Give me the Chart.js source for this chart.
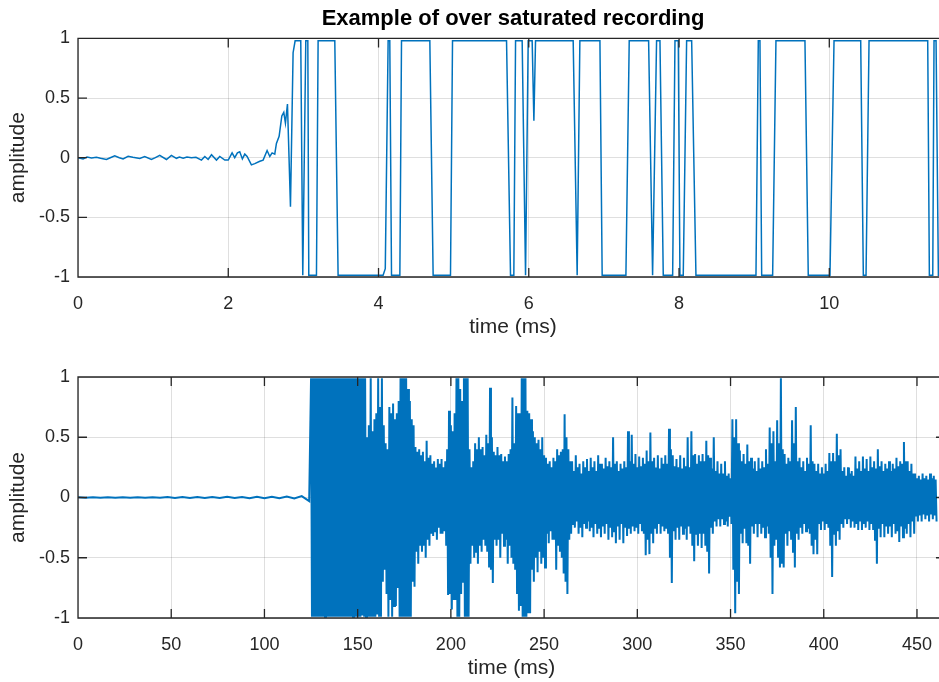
<!DOCTYPE html>
<html lang="en">

<head>
    <meta charset="UTF-8">
    <meta name="viewport" content="width=device-width, initial-scale=1.0">
    <script src="https://cdn.jsdelivr.net/npm/chart.js"></script>
    <title>Over saturated recording</title>
    <style>
        body {
            margin: 0;
            width: 939px;
            height: 682px;
            overflow: hidden;
            background: #fff;
        }

        canvas {
            position: absolute;
            left: 0;
        }

        #grafico1 { top: 0; }
        #grafico2 { top: 340px; }
    </style>
</head>

<body>
    <canvas id="grafico1" width="948" height="340"></canvas>
    <canvas id="grafico2" width="948" height="341"></canvas>
</body>

</html>

<script>
// ---- dados ----

// subplot de cima: zoom nos primeiros ms (tempo em ms, amplitude)
const topTime = [
    0, 0.067, 0.12, 0.18, 0.245, 0.3, 0.378, 0.43, 0.489, 0.55, 0.6, 0.667, 0.73, 0.822, 0.888, 0.977,
    1.03, 1.088, 1.177, 1.243, 1.31, 1.35, 1.4, 1.45, 1.51, 1.57, 1.643, 1.688, 1.732, 1.777, 1.843, 1.887, 1.954,
    2.0, 2.051, 2.086, 2.122, 2.153, 2.188, 2.22, 2.251, 2.308, 2.353, 2.42, 2.464, 2.517, 2.553, 2.584, 2.619,
    2.641, 2.677, 2.713, 2.739, 2.761, 2.788, 2.828, 2.863, 2.89, 2.965, 2.992, 3.032, 3.059, 3.072, 3.174,
    3.196, 3.418, 3.462, 4.061, 4.09, 4.128, 4.15, 4.173, 4.284, 4.306, 4.683, 4.727, 4.958, 4.985, 5.704,
    5.757, 5.801, 5.824, 5.912, 5.957, 5.992, 6.045, 6.068, 6.09, 6.591, 6.644, 6.68, 6.947, 6.977, 7.293,
    7.337, 7.595, 7.648, 7.701, 7.746, 7.79, 7.915, 7.946, 7.99, 8.012, 8.056, 8.101, 8.168, 8.225, 9.024,
    9.055, 9.077, 9.1, 9.246, 9.29, 9.676, 9.72, 10.009, 10.063, 10.418, 10.453, 10.489, 10.529, 11.31,
    11.332, 11.377, 11.394, 11.421, 11.452, 11.58
];
const topAmp = [
    0, -0.01, 0.005, -0.003, 0.003, -0.005, -0.015, 0, 0.015, 0, -0.01, 0.012, 0.003, -0.006, 0.01, -0.015,
    0, 0.02, -0.015, 0.02, -0.005, 0.005, -0.004, 0.006, 0, 0.004, -0.02, 0.01, -0.015, 0.025, -0.02, 0.01, -0.02,
    -0.02, 0.04, 0, 0.04, 0.05, -0.01, 0.03, 0.01, -0.06, -0.05, -0.03, -0.02, 0.06, 0.01, 0.04, 0.03,
    0.12, 0.18, 0.35, 0.38, 0.29, 0.45, -0.41, 0.88, 0.98, 0.98, -0.985, 0.98, 0.98, -0.985, -0.985,
    0.98, 0.98, -0.985, -0.985, -0.93, 0.98, 0.98, -0.985, -0.985, 0.98, 0.98, -0.985, -0.985, 0.98, 0.98,
    -0.985, -0.985, 0.98, 0.98, -0.985, 0.98, 0.98, 0.31, 0.98, 0.98, -0.985, 0.98, 0.98, -0.985, -0.985,
    0.98, 0.98, -0.985, 0.98, 0.98, -0.985, -0.985, 0.98, 0.98, -0.985, -0.985, 0.98, 0.98, -0.985, -0.985,
    0.98, 0.98, -0.985, -0.985, 0.98, 0.98, -0.985, -0.985, 0.98, 0.98, -0.985, -0.985, 0.98, 0.98,
    -0.985, -0.985, 0.98, 0.98, -0.985, -0.985
];

// subplot de baixo: gravacao inteira
// trecho quieto antes do estouro (um valor a cada 4 ms, comecando em 0)
const quietStart = 0;
const quietStep = 4;
const quietAmp = [
    0.003, -0.002, 0.002, -0.003, 0.002, -0.002, 0.003, -0.003, 0.002, -0.002, 0.003, -0.003, 0.004, -0.004,
    0.004, -0.005, 0.004, -0.005, 0.005, -0.004, 0.006, -0.005, 0.005, -0.006, 0.006, -0.006, 0.007, -0.006,
    0.008, -0.008, 0.012, -0.03
];

// trecho saturado / ruidoso a partir de 125 ms: maximo e minimo de cada ms (em centesimos)
const loudStart = 125;
const loudHi = [
    99, 99, 99, 99, 99, 99, 99, 99, 99, 99,
    99, 99, 99, 99, 99, 99, 99, 99, 99, 99,
    99, 99, 99, 99, 99, 99, 99, 99, 99, 99,
    50, 60, 99, 55, 65, 70, 99, 75, 99, 60,
    45, 40, 75, 70, 78, 65, 70, 80, 99, 99,
    99, 99, 90, 80, 65, 60, 42, 38, 40, 35,
    38, 30, 47, 33, 35, 28, 30, 25, 32, 28,
    32, 25, 30, 40, 72, 60, 55, 70, 99, 99,
    90, 80, 99, 99, 99, 40, 25, 30, 45, 40,
    50, 40, 42, 35, 52, 45, 91, 50, 38, 35,
    42, 35, 36, 30, 34, 30, 36, 40, 83, 45,
    76, 70, 70, 99, 99, 99, 72, 70, 65, 55,
    50, 45, 48, 40, 50, 35, 33, 28, 30, 25,
    33, 30, 40, 35, 38, 40, 69, 50, 40, 30,
    30, 22, 35, 25, 28, 20, 30, 25, 32, 22,
    33, 25, 30, 22, 35, 28, 28, 24, 33, 26,
    30, 25, 50, 28, 30, 22, 28, 24, 30, 25,
    55, 30, 52, 28, 36, 25, 34, 26, 33, 28,
    39, 30, 54, 30, 33, 25, 35, 24, 33, 28,
    35, 28, 57, 40, 35, 26, 32, 25, 35, 24,
    33, 26, 50, 25, 55, 35, 36, 28, 35, 30,
    36, 30, 47, 35, 33, 24, 50, 22, 30, 20,
    28, 20, 30, 18, 20, 16, 65, 50, 65, 45,
    39, 30, 36, 28, 44, 30, 33, 24, 30, 22,
    33, 24, 30, 25, 40, 28, 58, 45, 55, 30,
    64, 45, 99, 40, 36, 28, 33, 30, 64, 45,
    75, 30, 33, 25, 30, 22, 33, 28, 60, 30,
    28, 22, 28, 20, 25, 20, 28, 22, 37, 30,
    37, 30, 53, 35, 40, 22, 25, 18, 25, 20,
    22, 18, 34, 24, 30, 22, 34, 24, 32, 22,
    34, 25, 30, 24, 40, 26, 30, 22, 28, 24,
    30, 22, 28, 24, 33, 26, 30, 28, 46, 30,
    30, 22, 28, 20, 20, 16, 18, 15, 20, 16,
    18, 15, 20, 16, 18, 15
];
const loudLo = [
    -99, -99, -99, -99, -99, -99, -99, -99, -99, -99,
    -99, -99, -99, -99, -99, -99, -99, -99, -99, -99,
    -99, -99, -99, -99, -99, -99, -99, -98, -99, -99,
    -99, -99, -99, -99, -99, -97, -99, -99, -70, -60,
    -80, -99, -85, -99, -90, -90, -75, -99, -99, -99,
    -99, -99, -99, -99, -70, -74, -45, -55, -40, -45,
    -40, -50, -35, -40, -30, -32, -28, -35, -25, -30,
    -30, -28, -40, -81, -80, -93, -85, -85, -99, -99,
    -80, -70, -99, -99, -99, -55, -40, -50, -45, -55,
    -40, -45, -35, -40, -45, -58, -60, -71, -35, -40,
    -35, -50, -30, -40, -35, -55, -40, -50, -55, -60,
    -80, -94, -90, -99, -99, -99, -96, -96, -60, -70,
    -50, -62, -45, -55, -50, -58, -30, -38, -28, -35,
    -35, -60, -40, -45, -50, -63, -70, -80, -35, -30,
    -22, -25, -20, -30, -25, -33, -22, -25, -20, -28,
    -25, -33, -22, -30, -26, -33, -24, -30, -22, -35,
    -25, -33, -28, -38, -24, -35, -22, -38, -25, -32,
    -26, -30, -24, -28, -25, -30, -22, -28, -30, -48,
    -35, -47, -30, -38, -25, -30, -22, -30, -24, -28,
    -26, -30, -50, -71, -28, -35, -25, -35, -24, -30,
    -26, -35, -24, -30, -40, -53, -30, -40, -30, -42,
    -30, -40, -45, -63, -25, -30, -20, -24, -18, -24,
    -18, -22, -20, -24, -16, -22, -60, -96, -70, -80,
    -30, -38, -26, -38, -40, -55, -24, -30, -22, -33,
    -22, -30, -25, -33, -24, -30, -50, -80, -40, -35,
    -50, -58, -55, -58, -30, -40, -28, -35, -45, -58,
    -30, -35, -25, -30, -22, -28, -26, -30, -40, -47,
    -35, -47, -22, -27, -20, -27, -22, -25, -40, -66,
    -30, -40, -28, -35, -22, -25, -18, -22, -18, -25,
    -20, -25, -22, -27, -20, -27, -22, -25, -20, -27,
    -22, -27, -35, -55, -26, -33, -22, -33, -24, -30,
    -24, -33, -22, -30, -28, -37, -24, -33, -26, -30,
    -22, -33, -20, -30, -15, -20, -15, -20, -14, -18,
    -15, -20, -14, -18, -15, -20
];

// ticks
const ampTicks = [-1, -0.5, 0, 0.5, 1];
const topTicks = [0, 2, 4, 6, 8, 10];
const botTicks = [0, 50, 100, 150, 200, 250, 300, 350, 400, 450];

const azulMatlab = '#0072BD';
const corEixo = '#262626';
Chart.defaults.font.family = '"Liberation Sans", Arial, Helvetica, sans-serif';
Chart.defaults.color = corEixo;

// caixa do eixo com os tracinhos para dentro (estilo matlab)
const caixaMatlab = {
    id: 'caixaMatlab',
    afterDraw(chart) {
        const ctx = chart.ctx;
        const a = chart.chartArea;
        const x = chart.scales.x;
        const y = chart.scales.y;
        const tam = 9;

        ctx.save();
        ctx.strokeStyle = corEixo;
        ctx.lineWidth = 1.3;
        ctx.beginPath();
        ctx.rect(a.left, a.top, a.right - a.left, a.bottom - a.top);
        x.ticks.forEach(function (t) {
            let px = x.getPixelForValue(t.value);
            ctx.moveTo(px, a.bottom); ctx.lineTo(px, a.bottom - tam);
            ctx.moveTo(px, a.top); ctx.lineTo(px, a.top + tam);
        });
        y.ticks.forEach(function (t) {
            let py = y.getPixelForValue(t.value);
            ctx.moveTo(a.left, py); ctx.lineTo(a.left + tam, py);
            ctx.moveTo(a.right, py); ctx.lineTo(a.right - tam, py);
        });
        ctx.stroke();
        ctx.restore();
    }
};

function montarEixos(xMax, xTicks) {
    return {
        x: {
            type: 'linear',
            min: 0,
            max: xMax,
            afterBuildTicks: (s) => { s.ticks = xTicks.map(v => ({ value: v })); },
            afterFit: (s) => { s.height = 63; },
            grid: { color: 'rgba(38,38,38,0.15)', drawTicks: false },
            border: { display: false },
            ticks: { font: { size: 18 }, padding: 16, maxRotation: 0, callback: (v) => String(v) },
            title: { display: true, text: 'time (ms)', font: { size: 21 }, padding: { top: 0, bottom: 0 } }
        },
        y: {
            min: -1,
            max: 1,
            afterBuildTicks: (s) => { s.ticks = ampTicks.map(v => ({ value: v })); },
            afterFit: (s) => { s.width = 78; },
            grid: { color: 'rgba(38,38,38,0.15)', drawTicks: false },
            border: { display: false },
            ticks: { font: { size: 18 }, padding: 8, callback: (v) => String(v) },
            title: { display: true, text: 'amplitude', font: { size: 21 }, padding: { top: 6, bottom: 0 } }
        }
    };
}

// pontos de cada subplot
let pontosTop = topTime.map((t, i) => ({ x: t, y: topAmp[i] }));
let pontosBot = quietAmp.map((v, i) => ({ x: quietStart + i * quietStep, y: v }));
for (let i = 0; i < loudHi.length; i++) {
    // max no inicio do ms, min no meio
    pontosBot.push({ x: loudStart + i, y: loudHi[i] / 100 });
    pontosBot.push({ x: loudStart + i + 0.5, y: loudLo[i] / 100 });
}

function serie(pontos, largura) {
    return {
        data: pontos,
        borderColor: azulMatlab,
        borderWidth: largura,
        pointRadius: 0,
        tension: 0,
        fill: false
    };
}

new Chart(document.getElementById('grafico1'), {
    type: 'line',
    data: { datasets: [serie(pontosTop, 1.5)] },
    options: {
        responsive: false,
        animation: false,
        parsing: false,
        layout: { padding: 0 },
        plugins: {
            legend: { display: false },
            tooltip: { enabled: false },
            title: {
                display: true,
                text: 'Example of over saturated recording',
                color: '#000',
                fullSize: false,
                font: { size: 22, weight: 'bold' },
                padding: { top: 6, bottom: 6 }
            }
        },
        scales: montarEixos(11.58, topTicks)
    },
    plugins: [caixaMatlab]
});

new Chart(document.getElementById('grafico2'), {
    type: 'line',
    data: { datasets: [serie(pontosBot, 2)] },
    options: {
        responsive: false,
        animation: false,
        parsing: false,
        layout: { padding: { top: 37 } },
        plugins: {
            legend: { display: false },
            tooltip: { enabled: false }
        },
        scales: montarEixos(465, botTicks)
    },
    plugins: [caixaMatlab]
});
</script>
